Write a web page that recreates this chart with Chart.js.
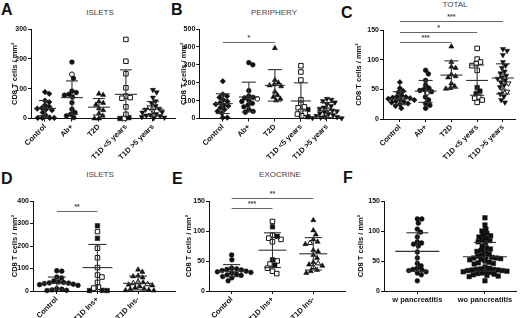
<!DOCTYPE html>
<html><head><meta charset="utf-8">
<script src="https://cdn.jsdelivr.net/npm/chart.js@4.4.0/dist/chart.umd.min.js"></script>
<style>
html,body{margin:0;padding:0;background:#fff;}
body{width:520px;height:318px;position:relative;overflow:hidden;font-family:"Liberation Sans",Arial,sans-serif;}
canvas{position:absolute;}
.lt{position:absolute;font-weight:bold;font-size:16px;color:#111;line-height:1;}
.ti{position:absolute;font-size:8px;color:#444;transform:translateX(-50%);line-height:1;white-space:nowrap;}
</style></head><body>
<div class="lt" style="left:1px;top:2px">A</div>
<div class="lt" style="left:171px;top:2px">B</div>
<div class="lt" style="left:341px;top:5px">C</div>
<div class="lt" style="left:1px;top:171px">D</div>
<div class="lt" style="left:172px;top:171px">E</div>
<div class="lt" style="left:343px;top:170px">F</div>
<div class="ti" style="left:100px;top:9px">ISLETS</div>
<div class="ti" style="left:274px;top:9px">PERIPHERY</div>
<div class="ti" style="left:455px;top:1px">TOTAL</div>
<div class="ti" style="left:100px;top:171px">ISLETS</div>
<div class="ti" style="left:280px;top:171px">EXOCRINE</div>
<script>
// ---------- Panel A: ISLETS ----------
const aCategories = ['Control', 'Ab+', 'T2D', 'T1D <5 years', 'T1D >5 years'];
const aControl = [89, 83, 60, 55, 45, 40, 35, 33, 30, 28, 20, 10, 2, 2, 2, 2];
const aAbPos = [189, 134, 92, 87, 81, 78, 72, 53, 31, 20, 14, 9, 3];
const aAbPosOpen = [148];
const aT2D = [83, 79, 57, 52, 46, 34, 28, 17, 9, 0, 0];
const aT1dShortOpen = [265, 192, 150, 103, 75, 70, 68, 39, 14, 0];
const aT1dShortFilled = [3, 0];
const aT1dLong = [96, 88, 70, 58, 50, 42, 33, 30, 22, 20, 15, 12, 10, 8, 5, 3, 2];
const aT1dLongOpen = [37, 25];
const aMean = [34, 70, 38, 81, 31];
const aSdHigh = [60, 126, 67, 163, 57];
const aSdLow = [10, 14, 12, 0, 8];
const aSignif = [];
const aYTicks = [0, 100, 200, 300];

// ---------- Panel B: PERIPHERY ----------
const bCategories = ['Control', 'Ab+', 'T2D', 'T1D <5 years', 'T1D >5 years'];
const bControl = [208, 135, 125, 118, 105, 95, 88, 80, 75, 70, 60, 50, 40, 30, 5, 5];
const bAbPos = [312, 300, 155, 125, 118, 115, 100, 95, 85, 75, 65, 50, 40, 35];
const bAbPosOpen = [110];
const bT2D = [393, 215, 200, 190, 185, 180, 150, 130, 120, 110, 100];
const bT1dShortOpen = [295, 260, 215, 105, 80, 65, 60, 40, 30, 25, 15];
const bT1dShortFilled = [50, 10];
const bT1dLong = [110, 105, 98, 90, 80, 70, 62, 55, 45, 40, 35, 30, 25, 20, 15, 10, 8, 5, 3, 2];
const bT1dLongOpen = [50];
const bMean = [83, 120, 185, 98, 46];
const bSdHigh = [138, 203, 273, 199, 89];
const bSdLow = [28, 37, 97, 0, 5];
const bSignif = [[0, 2, 427, '*']];
const bYTicks = [0, 100, 200, 300, 400, 500];

// ---------- Panel C: TOTAL ----------
const cCategories = ['Control', 'Ab+', 'T2D', 'T1D <5 years', 'T1D >5 years'];
const cControl = [62, 52, 47, 45, 40, 38, 37, 36, 35, 34, 33, 32, 30, 29, 28, 26, 25, 22, 18];
const cAbPos = [82, 76, 65, 57, 52, 50, 48, 46, 37, 32, 26, 23, 18];
const cAbPosOpen = [44];
const cT2D = [122, 96, 88, 86, 75, 72, 70, 60, 55, 52, 51];
const cT1dShortOpen = [119, 101, 96, 93, 90, 82, 37, 35, 32, 28];
const cT1dShortFilled = [53, 47, 43];
const cT1dLong = [118, 115, 108, 96, 90, 86, 80, 77, 73, 70, 68, 65, 62, 57, 54, 42, 38, 32, 28];
const cT1dLongOpen = [60, 48, 46];
const cMean = [34, 47, 74, 65, 69];
const cSdHigh = [46, 65, 98, 91, 93];
const cSdLow = [24, 28, 52, 40, 42];
const cSignif = [[0, 4, 165, '***'], [0, 3, 147, '*'], [0, 2, 130, '***']];
const cYTicks = [0, 50, 100, 150];

// ---------- Panel D: ISLETS ----------
const dCategories = ['Control', 'T1D Ins+', 'T1D Ins-'];
const dControl = [90, 88, 62, 58, 45, 40, 38, 36, 35, 33, 30, 28, 25, 10, 8, 5, 3, 2];
const dInsPosOpen = [264, 190, 148, 104, 71, 62, 38, 17, 13];
const dInsPosFilled = [290, 234, 3, 2, 2];
const dInsNeg = [95, 85, 68, 65, 60, 38, 28, 25, 20, 15, 10, 8, 5, 3, 2];
const dInsNegOpen = [40, 35, 30];
const dMean = [34, 104, 34];
const dSdHigh = [62, 207, 66];
const dSdLow = [8, 0, 5];
const dSignif = [[0, 1, 356, '**']];
const dYTicks = [0, 100, 200, 300, 400];

// ---------- Panel E: EXOCRINE ----------
const eCategories = ['Control', 'T1D Ins+', 'T1D Ins-'];
const eControl = [60, 52, 38, 37, 36, 35, 34, 33, 32, 31, 30, 28, 27, 26, 24, 22, 17];
const eInsPosFilled = [107, 91, 52, 43];
const eInsPosOpen = [116, 93, 88, 86, 82, 50, 45, 38, 33, 29];
const eInsNeg = [118, 101, 94, 86, 82, 78, 68, 66, 60, 55, 48, 44, 42, 35, 33, 30];
const eInsNegOpen = [80, 46, 40];
const eMean = [33, 68, 62];
const eSdHigh = [44, 97, 89];
const eSdLow = [24, 39, 35];
const eSignif = [[0, 2, 155, '**'], [0, 1, 138, '***']];
const eYTicks = [0, 50, 100, 150];

// ---------- Panel F ----------
const fCategories = ['w pancreatitis', 'wo pancreatitis'];
const fWith = [120, 120, 113, 103, 98, 90, 82, 80, 78, 75, 65, 55, 46, 42, 38, 36, 35, 34, 32, 30, 27, 17];
const fWithout = [122, 110, 103, 100, 96, 93, 92, 90, 88, 85, 84, 82, 80, 75, 72, 70, 68, 66, 65, 62, 60, 58, 57, 56, 55, 55, 54, 53, 52, 50, 48, 47, 46, 45, 40, 38, 37, 36, 36, 35, 35, 34, 34, 33, 33, 32, 31, 30, 29, 28, 27, 26, 25, 24, 17];
const fMean = [66, 57];
const fSdHigh = [97, 81];
const fSdLow = [33, 33];
const fSignif = [];
const fYTicks = [0, 50, 100, 150];

// ---------- rendering ----------
const INK = '#111';
const FONT = '"Liberation Sans", Arial, sans-serif';
const DIAMOND = {style: 'rectRot', r: 2.8, rot: 0};
const CIRCLE = {style: 'circle', r: 2.4, rot: 0};
const TRI = {style: 'triangle', r: 3, rot: 0};
const ITRI = {style: 'triangle', r: 3, rot: 180};
const SQUARE = {style: 'rect', r: 3.2, rot: 0};

function grp(shape, sets) { return Object.assign({}, shape, {sets}); }
function S(values, open) { return {values, open: !!open}; }

const panels = [
  {left: 0, top: 0, w: 180, h: 160, axisX: 31, titleX: 15, plotTop: 29, plotBottom: 118.5, plotRight: 176,
   yTicks: aYTicks, xMin: -0.519, xMax: 4.85, rot: 45, meanHalf: 11, capHalf: 6, D: 4.4,
   cats: aCategories, means: aMean, hi: aSdHigh, lo: aSdLow, sig: aSignif,
   groups: [grp(DIAMOND, [S(aControl)]), grp(CIRCLE, [S(aAbPos), S(aAbPosOpen, 1)]), grp(TRI, [S(aT2D)]),
            grp(SQUARE, [S(aT1dShortOpen, 1), S(aT1dShortFilled)]), grp(ITRI, [S(aT1dLong), S(aT1dLongOpen, 1)])]},
  {left: 175, top: 0, w: 170, h: 160, axisX: 199.3, titleX: 184, plotTop: 29, plotBottom: 118.5, plotRight: 342,
   yTicks: bYTicks, xMin: -0.903, xMax: 4.533, rot: 45, meanHalf: 10, capHalf: 7, D: 4.4,
   cats: bCategories, means: bMean, hi: bSdHigh, lo: bSdLow, sig: bSignif,
   groups: [grp(DIAMOND, [S(bControl)]), grp(CIRCLE, [S(bAbPos), S(bAbPosOpen, 1)]), grp(TRI, [S(bT2D)]),
            grp(SQUARE, [S(bT1dShortOpen, 1), S(bT1dShortFilled)]), grp(ITRI, [S(bT1dLong), S(bT1dLongOpen, 1)])]},
  {left: 343, top: 0, w: 177, h: 160, axisX: 383, titleX: 359, plotTop: 30, plotBottom: 119, plotRight: 517,
   yTicks: cYTicks, xMin: -0.654, xMax: 4.5, rot: 45, meanHalf: 11, capHalf: 7, D: 4.4,
   cats: cCategories, means: cMean, hi: cSdHigh, lo: cSdLow, sig: cSignif,
   groups: [grp(DIAMOND, [S(cControl)]), grp(CIRCLE, [S(cAbPos), S(cAbPosOpen, 1)]), grp(TRI, [S(cT2D)]),
            grp(SQUARE, [S(cT1dShortOpen, 1), S(cT1dShortFilled)]), grp(ITRI, [S(cT1dLong), S(cT1dLongOpen, 1)])]},
  {left: 0, top: 160, w: 180, h: 158, axisX: 33, titleX: 15, plotTop: 201, plotBottom: 291, plotRight: 177,
   yTicks: dYTicks, xMin: -0.585, xMax: 2.927, rot: 45, meanHalf: 15, capHalf: 9, D: 4.8,
   cats: dCategories, means: dMean, hi: dSdHigh, lo: dSdLow, sig: dSignif,
   groups: [grp(CIRCLE, [S(dControl)]), grp(SQUARE, [S(dInsPosOpen, 1), S(dInsPosFilled)]), grp(TRI, [S(dInsNeg), S(dInsNegOpen, 1)])]},
  {left: 175, top: 160, w: 175, h: 158, axisX: 209, titleX: 188.5, plotTop: 201, plotBottom: 291, plotRight: 348,
   yTicks: eYTicks, xMin: -0.554, xMax: 2.795, rot: 45, meanHalf: 14, capHalf: 8.5, D: 4.8,
   cats: eCategories, means: eMean, hi: eSdHigh, lo: eSdLow, sig: eSignif,
   groups: [grp(CIRCLE, [S(eControl)]), grp(SQUARE, [S(eInsPosFilled), S(eInsPosOpen, 1)]), grp(TRI, [S(eInsNeg), S(eInsNegOpen, 1)])]},
  {left: 345, top: 160, w: 175, h: 158, axisX: 384, titleX: 361, plotTop: 201, plotBottom: 291, plotRight: 519,
   yTicks: fYTicks, xMin: -0.493, xMax: 1.464, rot: 0, meanHalf: 22, capHalf: 11, D: 4.3,
   cats: fCategories, means: fMean, hi: fSdHigh, lo: fSdLow, sig: fSignif,
   groups: [grp(CIRCLE, [S(fWith)]), grp(SQUARE, [S(fWithout)])]}
];

function makePlugin(p) {
  return {
    id: 'meanSd',
    afterDatasetsDraw(chart) {
      const {ctx} = chart; const xs = chart.scales.x, ys = chart.scales.y;
      const base = ys.getPixelForValue(0);
      const ln = (x1, y1, x2, y2) => { ctx.beginPath(); ctx.moveTo(x1, y1); ctx.lineTo(x2, y2); ctx.stroke(); };
      ctx.save();
      ctx.strokeStyle = '#333'; ctx.lineWidth = 1.1;
      p.means.forEach((m, i) => {
        const cx = xs.getPixelForValue(i);
        const ym = ys.getPixelForValue(m), yh = ys.getPixelForValue(p.hi[i]);
        const yl = Math.min(ys.getPixelForValue(p.lo[i]), base);
        ln(cx - p.meanHalf, ym, cx + p.meanHalf, ym);
        ln(cx, yh, cx, yl);
        ln(cx - p.capHalf, yh, cx + p.capHalf, yh);
        if (p.lo[i] > 0) ln(cx - p.capHalf, yl, cx + p.capHalf, yl);
      });
      ctx.strokeStyle = '#666'; ctx.lineWidth = 1;
      ctx.fillStyle = '#444'; ctx.font = 'bold 7px ' + FONT;
      ctx.textAlign = 'center'; ctx.textBaseline = 'bottom';
      p.sig.forEach(([a, b, v, lab]) => {
        const x1 = xs.getPixelForValue(a), x2 = xs.getPixelForValue(b), y = Math.round(ys.getPixelForValue(v)) + 0.5;
        ln(x1, y, x2, y);
        ctx.fillText(lab, (x1 + x2) / 2, y - 1);
      });
      ctx.restore();
    }
  };
}

function swarm(chart, p) {
  const xs = chart.scales.x, ys = chart.scales.y;
  const ppu = xs.getPixelForValue(1) - xs.getPixelForValue(0);
  p.groups.forEach((g, gi) => {
    const pts = [];
    chart.data.datasets.forEach(ds => { if (ds.groupIndex === gi) ds.data.forEach(pt => pts.push(pt)); });
    pts.sort((a, b) => b.y - a.y);
    const placed = [];
    pts.forEach(pt => {
      const py = ys.getPixelForValue(pt.y);
      let best = 0;
      for (let k = 0; k < 600; k++) {
        const dx = (k % 2 === 1 ? 1 : -1) * Math.ceil(k / 2) * 0.25;
        if (placed.every(q => (q.dx - dx) ** 2 + (q.py - py) ** 2 >= p.D * p.D)) { best = dx; break; }
      }
      placed.push({dx: best, py});
      pt.x = gi + best / ppu;
    });
  });
  chart.update('none');
}

panels.forEach(p => {
  const cv = document.createElement('canvas');
  cv.width = p.w; cv.height = p.h;
  cv.style.left = p.left + 'px'; cv.style.top = p.top + 'px';
  cv.style.width = p.w + 'px'; cv.style.height = p.h + 'px';
  document.body.appendChild(cv);
  const datasets = [];
  p.groups.forEach((g, gi) => {
    g.sets.forEach(s => {
      datasets.push({
        groupIndex: gi,
        data: s.values.map(v => ({x: gi, y: v})),
        pointStyle: g.style, pointRotation: g.rot, pointRadius: g.r, pointHoverRadius: g.r,
        pointBackgroundColor: s.open ? '#fff' : INK, pointBorderColor: INK,
        pointBorderWidth: s.open ? 1 : 0.5, showLine: false, clip: false
      });
    });
  });
  const yW = p.axisX - (p.titleX - 4.5);
  const xH = (p.top + p.h) - p.plotBottom;
  new Chart(cv, {
    type: 'scatter',
    data: {datasets},
    plugins: [makePlugin(p)],
    options: {
      responsive: false, animation: false, devicePixelRatio: 1,
      layout: {padding: {left: p.titleX - 4.5 - p.left, top: p.plotTop - p.top, right: p.left + p.w - p.plotRight, bottom: 0}},
      plugins: {legend: {display: false}, tooltip: {enabled: false}},
      scales: {
        x: {
          type: 'linear', min: p.xMin, max: p.xMax,
          grid: {display: true, drawOnChartArea: false, drawTicks: true, tickLength: 3, color: INK},
          border: {display: true, color: INK, width: 1},
          afterBuildTicks: s => { s.ticks = p.cats.map((c, i) => ({value: i})); },
          ticks: {autoSkip: false, minRotation: p.rot, maxRotation: p.rot, padding: 1, color: INK,
                  font: {family: FONT, size: 7.5, weight: 'bold'}, callback: v => p.cats[v]},
          afterFit: s => { s.height = xH; }
        },
        y: {
          type: 'linear', min: 0, max: p.yTicks[p.yTicks.length - 1],
          afterBuildTicks: s => { s.ticks = p.yTicks.map(v => ({value: v})); },
          grid: {display: true, drawOnChartArea: false, drawTicks: true, tickLength: 3, color: INK},
          border: {display: true, color: INK, width: 1},
          ticks: {padding: 1, color: INK, font: {family: FONT, size: 7, weight: 'bold'}},
          title: {display: true, text: 'CD8 T cells / mm²', color: INK, padding: 0,
                  font: {family: FONT, size: 7.5, weight: 'bold', lineHeight: 1.2}},
          afterFit: s => { s.width = yW; }
        }
      }
    }
  });
  const chart = Chart.getChart(cv);
  swarm(chart, p);
});
</script>
</body></html>
